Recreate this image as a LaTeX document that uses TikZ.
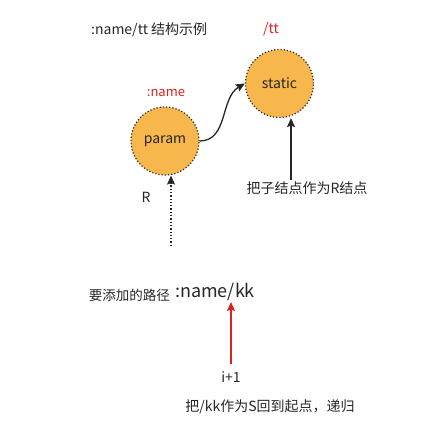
\documentclass[tikz,border=0pt]{standalone}
\usepackage{fontspec}
\setmainfont{Noto Sans CJK SC}
\usetikzlibrary{arrows.meta}
\definecolor{nodeorange}{HTML}{F8B74C}
\definecolor{inkgray}{HTML}{262626}
\definecolor{markred}{HTML}{E0201E}
\begin{document}
\begin{tikzpicture}[x=1pt, y=-1pt, every node/.style={font=\fontsize{14}{16}\selectfont, text=inkgray, inner sep=1pt},
  trie/.style={circle, draw=inkgray, dotted, line width=1.2pt, fill=nodeorange, minimum size=68pt},
  tag/.style={text=markred},
  arr/.style={-{Stealth[length=9pt, width=8pt, inset=1.5pt]}, line width=1.3pt, inkgray}]
\useasboundingbox (0,0) rectangle (428,438);
\node[anchor=west] (title) at (90,30) {:name/tt 结构示例};
\node[tag] (ttlabel) at (271,29) {/tt};
\node[trie] (static) at (279.5,83.5) {static};
\node[trie] (param) at (165,141) {param};
\node[tag, font=\fontsize{13}{15}\selectfont] (namelabel) at (166,93) {:name};
\draw[arr] (param.east) to[out=0, in=210] (static.west);
\node (child) at (307,188) {把子结点作为R结点};
\draw[arr] (child.north -| 291,0) -- (static.south -| 291,0);
\node (R) at (146,197) {R};
\coordinate (dotend) at (171,246);
\draw[arr, dotted] (dotend) -- (param.south -| 171,0);
\node[anchor=east, font=\fontsize{13.5}{15}\selectfont] (addpath) at (171,295) {要添加的路径};
\node[anchor=west, font=\fontsize{18}{20}\selectfont] (kk) at (174,292) {:name/kk};
\node (step) at (231,377) {i+1};
\draw[arr, markred] (step.north -| 231,0) ++(0,-6) coordinate (redstart) -- (kk.south -| 231,0);
\node (back) at (270,407) {把/kk作为S回到起点，递归};
\end{tikzpicture}
\end{document}
